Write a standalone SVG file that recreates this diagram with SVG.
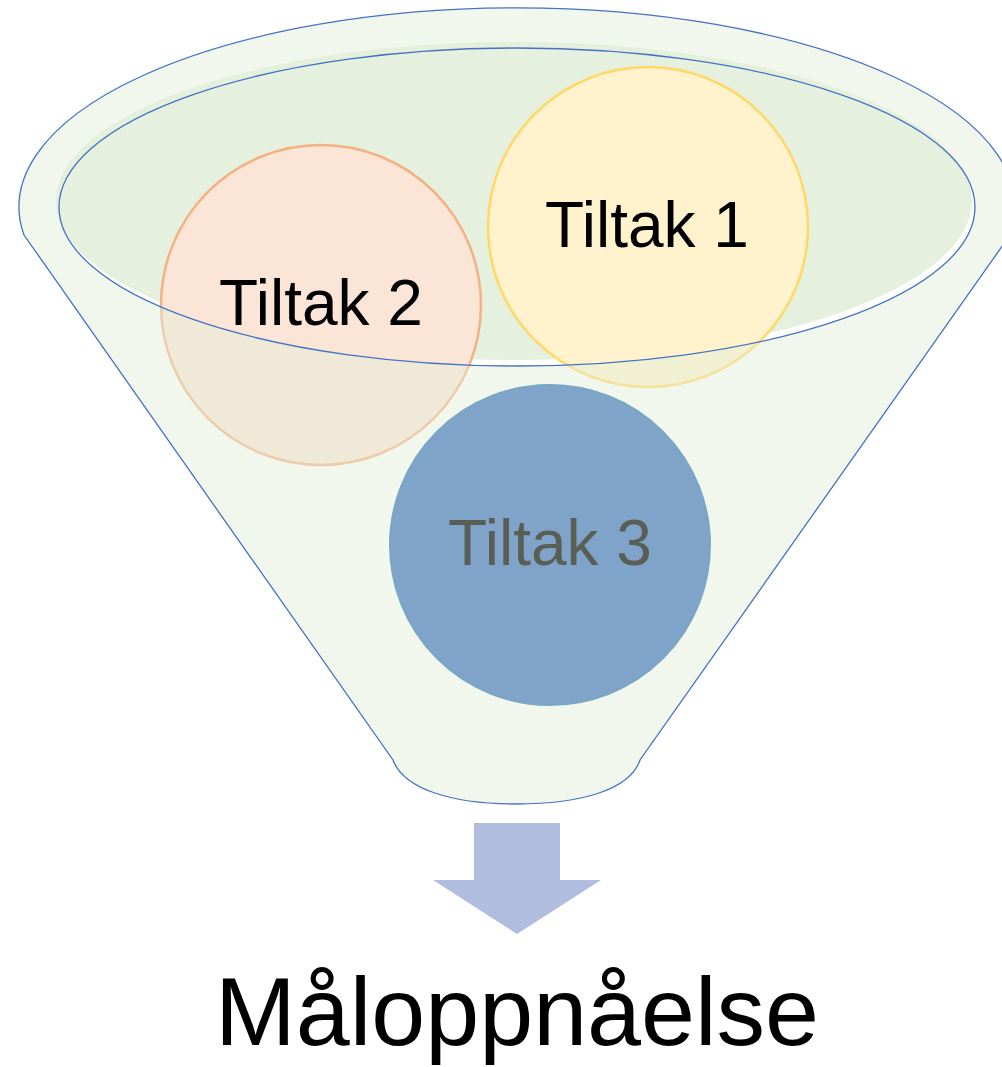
<svg xmlns="http://www.w3.org/2000/svg" width="1002" height="1067" viewBox="0 0 1002 1067">
  <style>
    .lbl { font-family: "Liberation Sans", Arial, sans-serif; font-size: 64px; text-anchor: middle; }
    .line { fill: none; stroke: #4472c4; stroke-width: 1.3; }
  </style>
  <rect x="0" y="0" width="1002" height="1067" fill="#ffffff"/>
  <g id="funnel-opening">
    <ellipse cx="517" cy="207" rx="458" ry="159" fill="#ffffff"/>
    <ellipse cx="514" cy="201" rx="458" ry="159" fill="#e5f0de"/>
  </g>
  <g id="tiltak1">
    <circle cx="648" cy="227" r="160" fill="#fff2cc" stroke="#ffd966" stroke-width="2.5"/>
    <text class="lbl" x="647" y="247" fill="#000000">Tiltak 1</text>
  </g>
  <g id="tiltak2">
    <circle cx="321" cy="305" r="160" fill="#fbe5d6" stroke="#f4b183" stroke-width="2.5"/>
    <text class="lbl" x="321" y="325" fill="#000000">Tiltak 2</text>
  </g>
  <g id="funnel">
    <path d="M 24,235 A 498 199 0 1 1 1010,235 L 640,760 C 630,790 580,804 517,804 C 454,804 404,790 393,760 Z M 59,207 A 458 159 0 1 0 975,207 A 458 159 0 1 0 59,207 Z" fill="#e2edd9" fill-opacity="0.45" fill-rule="evenodd"/>
    <path class="line" d="M 24,235 A 498 199 0 1 1 1010,235 L 640,760 C 630,790 580,804 517,804 C 454,804 404,790 393,760 Z"/>
    <ellipse class="line" cx="517" cy="207" rx="458" ry="159"/>
  </g>
  <g id="tiltak3">
    <circle cx="550" cy="545" r="160" fill="#7fa3c9" stroke="#79a7c3" stroke-width="2"/>
    <text class="lbl" x="550" y="565" fill="#595f55">Tiltak 3</text>
  </g>
  <g id="connectors">
    <path d="M 474,823 L 560,823 L 560,880 L 601,880 L 517,934 L 433,880 L 474,880 Z" fill="#b0bddf"/>
  </g>
  <g id="result">
    <text x="517" y="1045" font-family="'Liberation Sans', Arial, sans-serif" font-size="97" text-anchor="middle" fill="#000000">Måloppnåelse</text>
  </g>
</svg>
